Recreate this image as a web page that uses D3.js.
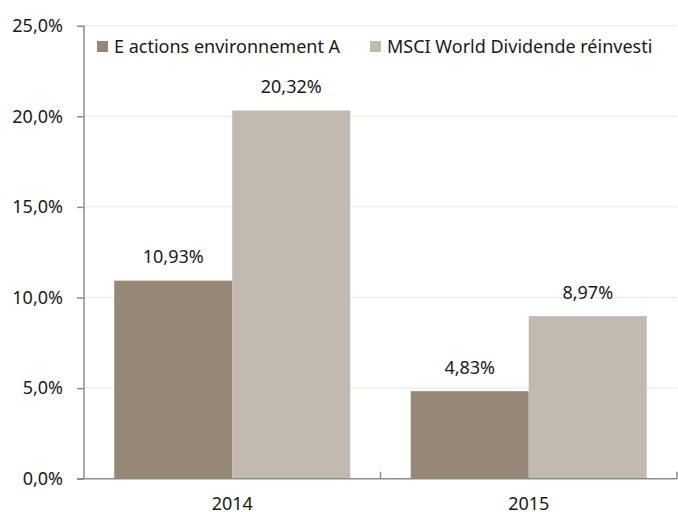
<!DOCTYPE html>
<html>
<head>
<meta charset="utf-8">
<script src="https://cdn.jsdelivr.net/npm/d3@7"></script>
<style>
  body { margin: 0; background: #fff; }
  svg { display: block; font-family: "Noto Sans", "Open Sans", sans-serif; }
</style>
</head>
<body>
<svg id="chart" width="678" height="512"></svg>
<script>
// data
var years = ["2014", "2015"];
var series = ["E actions environnement A", "MSCI World Dividende réinvesti"];
var fundValues = [10.93, 4.83];
var indexValues = [20.32, 8.97];
var yTicks = [0, 5, 10, 15, 20, 25];
var colors = ["#978776", "#c2b9b0"];

function drawChart() {
  var svg = d3.select("#chart");
  var fontSize = 18;

  // plot area
  var plotLeft = 84, plotRight = 677, plotTop = 25.7, plotBottom = 478.7;

  var fmt = function (v, n) {
    return v.toFixed(n).replace(".", ",") + "%";
  };

  var x0 = d3.scaleBand().domain(years).range([plotLeft, plotRight]).padding(0);
  var x1 = d3
    .scaleBand()
    .domain(series)
    .range([0, x0.bandwidth()])
    .paddingInner(0)
    .paddingOuter(0.256);
  var y = d3.scaleLinear().domain([0, 25]).range([plotBottom, plotTop]);

  // gridlines
  svg
    .append("g")
    .selectAll("line")
    .data(yTicks.filter(function (d) { return d > 0; }))
    .enter()
    .append("line")
    .attr("x1", plotLeft)
    .attr("x2", plotRight)
    .attr("y1", function (d) { return y(d); })
    .attr("y2", function (d) { return y(d); })
    .attr("stroke", "#ebe7de")
    .attr("stroke-width", 1);

  // bars
  var rows = years.map(function (yr, i) {
    return { year: yr, values: [fundValues[i], indexValues[i]] };
  });

  var groups = svg
    .selectAll("g.year")
    .data(rows)
    .enter()
    .append("g")
    .attr("class", "year")
    .attr("transform", function (d) { return "translate(" + x0(d.year) + ",0)"; });

  groups
    .selectAll("rect")
    .data(function (d) {
      return d.values.map(function (v, j) { return { s: series[j], v: v, j: j }; });
    })
    .enter()
    .append("rect")
    .attr("x", function (d) { return x1(d.s); })
    .attr("y", function (d) { return y(d.v); })
    .attr("width", x1.bandwidth())
    .attr("height", function (d) { return plotBottom - y(d.v); })
    .attr("fill", function (d) { return colors[d.j]; });

  // value labels
  groups
    .selectAll("text")
    .data(function (d) {
      return d.values.map(function (v, j) { return { s: series[j], v: v }; });
    })
    .enter()
    .append("text")
    .attr("x", function (d) { return x1(d.s) + x1.bandwidth() / 2; })
    .attr("y", function (d) { return y(d.v) - 17.5; })
    .attr("text-anchor", "middle")
    .attr("font-size", fontSize)
    .attr("fill", "#1a1a1a")
    .text(function (d) { return fmt(d.v, 2); });

  // y axis
  var yAxis = svg
    .append("g")
    .attr("transform", "translate(" + plotLeft + ",0)")
    .call(
      d3.axisLeft(y)
        .tickValues(yTicks)
        .tickSize(7)
        .tickPadding(14)
        .tickFormat(function (d) { return fmt(d, 1); })
    )
    .attr("font-family", null)
    .attr("font-size", fontSize);
  yAxis.selectAll("line, path").attr("stroke", "#8c8c8c").attr("stroke-width", 1.5);
  yAxis.select("path").attr("d", "M0," + plotBottom + "V" + plotTop);
  yAxis.selectAll("text").attr("fill", "#1a1a1a");

  // x axis
  var xAxis = svg.append("g");
  xAxis
    .append("line")
    .attr("x1", plotLeft - 7)
    .attr("x2", plotRight)
    .attr("y1", plotBottom)
    .attr("y2", plotBottom)
    .attr("stroke", "#8c8c8c")
    .attr("stroke-width", 1.5);
  xAxis
    .selectAll("line.tick")
    .data(years)
    .enter()
    .append("line")
    .attr("class", "tick")
    .attr("x1", function (d) { return x0(d) + x0.bandwidth(); })
    .attr("x2", function (d) { return x0(d) + x0.bandwidth(); })
    .attr("y1", plotBottom)
    .attr("y2", plotBottom - 7)
    .attr("stroke", "#8c8c8c")
    .attr("stroke-width", 1.5);
  xAxis
    .selectAll("text")
    .data(years)
    .enter()
    .append("text")
    .attr("x", function (d) { return x0(d) + x0.bandwidth() / 2; })
    .attr("y", 510)
    .attr("text-anchor", "middle")
    .attr("font-size", fontSize)
    .attr("fill", "#1a1a1a")
    .text(function (d) { return d; });

  // legend
  var legendX = [97, 370];
  var legend = svg
    .selectAll("g.legend")
    .data(series)
    .enter()
    .append("g")
    .attr("class", "legend")
    .attr("transform", function (d, i) { return "translate(" + legendX[i] + ",41)"; });
  legend
    .append("rect")
    .attr("width", 11)
    .attr("height", 11)
    .attr("fill", function (d, i) { return colors[i]; });
  legend
    .append("text")
    .attr("x", 17)
    .attr("y", 12)
    .attr("font-size", fontSize)
    .attr("fill", "#1a1a1a")
    .text(function (d) { return d; });
}
drawChart();
</script>
</body>
</html>
